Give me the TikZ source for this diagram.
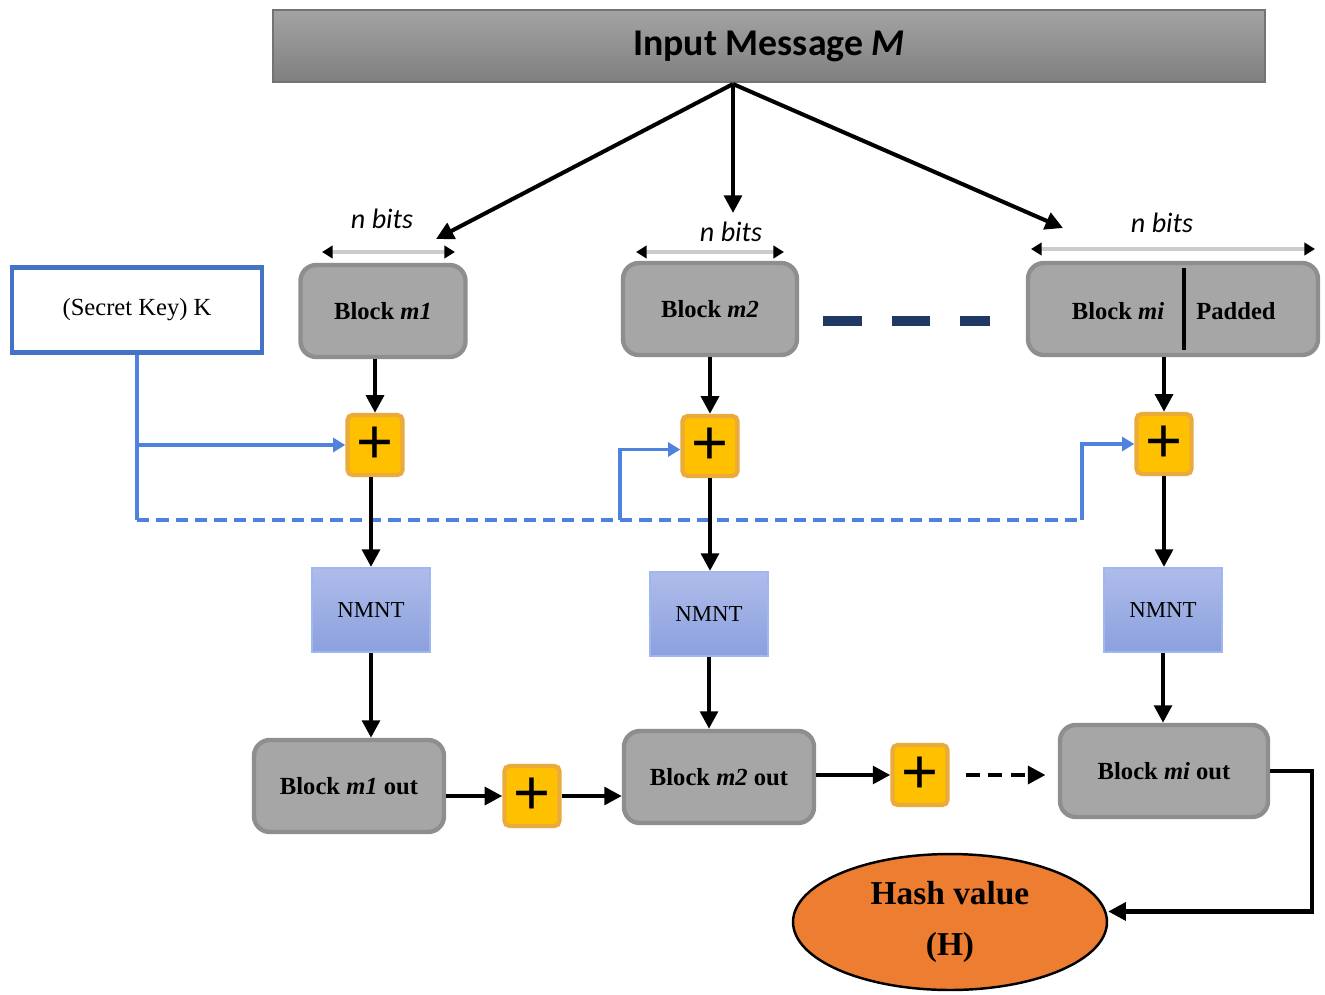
\documentclass[tikz,border=0pt]{standalone}
\usepackage{fontspec}
\setmainfont{Liberation Serif}
\newfontfamily\calfont{Carlito}
\newfontfamily\plusfont{Liberation Sans}
\usepackage{tikz}
\usetikzlibrary{arrows.meta,shapes.geometric}
\definecolor{blkgray}{RGB}{166,166,166}
\definecolor{blkedge}{RGB}{142,142,142}
\definecolor{xorfill}{RGB}{255,192,0}
\definecolor{xoredge}{RGB}{234,170,60}
\definecolor{keyblue}{RGB}{68,114,196}
\definecolor{linkblue}{RGB}{78,130,222}
\definecolor{nmtop}{RGB}{174,188,234}
\definecolor{nmbot}{RGB}{140,160,222}
\definecolor{nmedge}{RGB}{160,182,238}
\definecolor{hashorg}{RGB}{237,125,49}
\definecolor{navy}{RGB}{31,56,100}

\begin{document}
\begin{tikzpicture}[x=0.02cm,y=-0.02cm,
  msgbar/.style={draw=black!55,top color=black!36,bottom color=black!50,line width=1pt,minimum width=19.84cm,minimum height=1.44cm,font=\calfont\fontsize{21.5}{24}\selectfont\bfseries},
  blk/.style={draw=blkedge,fill=blkgray,line width=2.5pt,rounded corners=9pt,minimum height=1.84cm,font=\fontsize{14}{16}\selectfont\bfseries},
  blktxt/.style={font=\fontsize{14}{16}\selectfont\bfseries},
  xor/.style={draw=xoredge,fill=xorfill,line width=2.5pt,rounded corners=3pt,minimum width=1.1cm,minimum height=1.2cm,inner sep=0pt,font=\plusfont\fontsize{36}{36}\selectfont},
  nmnt/.style={draw=nmedge,top color=nmtop,bottom color=nmbot,line width=1.2pt,minimum width=2.36cm,minimum height=1.68cm,font=\fontsize{13}{15}\selectfont},
  keybox/.style={draw=keyblue,fill=white,line width=2.4pt,minimum width=5cm,minimum height=1.7cm,font=\fontsize{14}{16}\selectfont},
  hash/.style={ellipse,draw=black,line width=1.4pt,fill=hashorg,minimum width=6.28cm,minimum height=2.72cm,align=center,font=\fontsize{19}{29}\selectfont\bfseries},
  nbits/.style={font=\calfont\itshape\fontsize{16}{18}\selectfont},
  widthmark/.style={draw=black!20,line width=2pt,arrows={Triangle[black,length=6pt,width=7pt]-Triangle[black,length=6pt,width=7pt]}},
  topline/.style={line width=2.3pt,-{Triangle[length=10pt,width=10pt]}},
  arr/.style={line width=2.4pt,-{Triangle[length=10pt,width=10pt]}},
  keyline/.style={linkblue,line width=2.2pt},
  keyarr/.style={keyline,-{Triangle[length=7pt,width=8pt]}}]
  \fill[white] (0,0) rectangle (1325,994);
  \useasboundingbox (0,0) rectangle (1325,994);

  \node[msgbar] (msg) at (769,46) {Input Message \textit{M}};
  \node[keybox] (key) at (137,310) {(Secret Key) K};

  \node[blk,minimum width=3.3cm] (blk1) at (383,311) {Block \textit{m1}};
  \node[blk,minimum width=3.48cm] (blk2) at (710,309) {Block \textit{m2}};
  \node[blk,minimum width=5.8cm] (blki) at (1173,309) {};
  \node[blktxt] (blkitxt) at (1118,311) {Block \textit{mi}};
  \node[blktxt] (padtxt) at (1236,311) {Padded};
  \draw[line width=1.8pt] (1184,268) -- (1184,350);
  \draw[navy,line width=5.6pt,dash pattern=on 22pt off 17pt] (823,321) -- (990,321);

  \node[nbits] (nb1) at (382,219) {n bits};
  \node[nbits] (nb2) at (731,232) {n bits};
  \node[nbits] (nb3) at (1162,223) {n bits};
  \draw[widthmark] (322,252) -- (455,252);
  \draw[widthmark] (636,252) -- (784,252);
  \draw[widthmark] (1031,249) -- (1315,249);

  \coordinate (split) at (733,84);
  \coordinate (to1) at (436,239);
  \coordinate (to2) at (733,213);
  \coordinate (to3) at (1063,228);
  \draw[topline] (split) -- (to1);
  \draw[topline] (split) -- (to2);
  \draw[topline] (split) -- (to3);

  \node[xor] (xor1) at (375,445) {+};
  \node[xor] (xor2) at (710,446) {+};
  \node[xor] (xor3) at (1164,444) {+};
  \node[xor] (xor4) at (532,796) {+};
  \node[xor] (xor5) at (920,775) {+};

  \node[nmnt] (nmnt1) at (371,610) {NMNT};
  \node[nmnt] (nmnt2) at (709,614) {NMNT};
  \node[nmnt] (nmnt3) at (1163,610) {NMNT};

  \node[blk,minimum width=3.8cm] (out1) at (349,786) {Block \textit{m1} out};
  \node[blk,minimum width=3.8cm] (out2) at (719,777) {Block \textit{m2} out};
  \node[blk,minimum width=4.16cm] (outi) at (1164,771) {Block \textit{mi} out};

  \node[hash] (hash) at (950,922) {Hash value\\(H)};

  % secret key feed
  \coordinate (kc) at (137,445); \coordinate (kd) at (137,520);
  \coordinate (j2) at (620,520); \coordinate (j3) at (1082,520);
  \draw[keyline] (key.south) -- (kd);
  \draw[keyarr] (kc) -- (xor1.west);
  \draw[keyline,dash pattern=on 7pt off 4pt] (kd) -- (j3);
  \draw[keyarr] (j2) |- ([yshift=-2pt]xor2.west);
  \draw[keyarr] (j3) |- (xor3.west);

  \draw[arr] (xor1 |- blk1.south) -- (xor1.north);
  \draw[arr] (nmnt1 |- xor1.south) -- (nmnt1.north);
  \draw[arr] (nmnt1.south) -- (nmnt1 |- out1.north);
  \draw[arr] (blk2.south) -- (xor2.north);
  \draw[arr] (xor2.south) -- (xor2 |- nmnt2.north);
  \draw[arr] (nmnt2.south) -- (nmnt2 |- out2.north);
  \draw[arr] (xor3 |- blki.south) -- (xor3.north);
  \draw[arr] (xor3.south) -- (xor3 |- nmnt3.north);
  \draw[arr] (nmnt3.south) -- (nmnt3 |- outi.north);

  \draw[arr] (out1.east |- xor4.west) -- (xor4.west);
  \draw[arr] (xor4.east) -- (xor4.east -| out2.west);
  \draw[arr] (out2.east |- xor5.west) -- (xor5.west);
  \draw[arr,dash pattern=on 8pt off 5pt,shorten <=9pt,shorten >=7pt] (xor5.east) -- (xor5.east -| outi.west);
  \draw[arr,rounded corners=0pt] (outi.east) -- ++(42,0) |- ([yshift=6pt]hash.east);
\end{tikzpicture}
\end{document}
